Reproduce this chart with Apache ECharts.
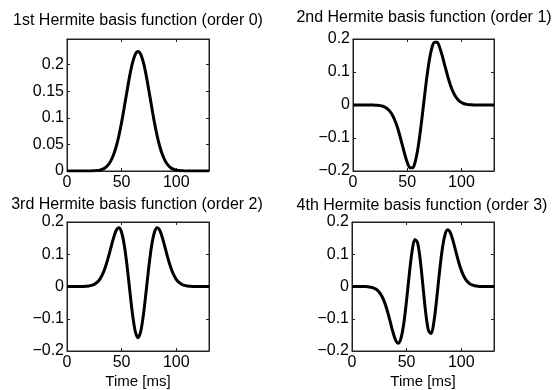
<!DOCTYPE html>
<html>
<head>
<meta charset="utf-8">
<script src="https://cdn.jsdelivr.net/npm/echarts@6/dist/echarts.min.js"></script>
<style>
  html, body { margin: 0; padding: 0; background: #fff; }
  #chart { width: 555px; height: 390px; }
</style>
</head>
<body>
<div id="chart"></div>
<script>
// time axis, ms (step 2.5)
const timeMs = [
  0, 2.5, 5, 7.5, 10, 12.5, 15, 17.5, 20, 22.5, 25, 27.5, 30, 32.5, 35, 37.5, 40, 42.5,
  45, 47.5, 50, 52.5, 55, 57.5, 60, 62.5, 65, 67.5, 70, 72.5, 75, 77.5, 80, 82.5, 85, 87.5,
  90, 92.5, 95, 97.5, 100, 102.5, 105, 107.5, 110, 112.5, 115, 117.5, 120, 122.5, 125, 127.5, 130
];

// order 0
const order0 = [
  0, 0, 0, 0, 0, 0, 0, 0, 0, 0.0002, 0.0004, 0.0008, 0.0017, 0.0033, 0.0062, 0.0110, 0.0186, 0.0299,
  0.0456, 0.0663, 0.0916, 0.1205, 0.1508, 0.1796, 0.2034, 0.2192, 0.2247, 0.2192, 0.2034, 0.1796, 0.1508, 0.1205, 0.0916, 0.0663, 0.0456, 0.0299,
  0.0186, 0.0110, 0.0062, 0.0033, 0.0017, 0.0008, 0.0004, 0.0002, 0, 0, 0, 0, 0, 0, 0, 0, 0
];

// order 1
const order1 = [
  0, 0, 0, 0, 0, 0, 0, 0, -0.0004, -0.0009, -0.0019, -0.0039, -0.0075, -0.0137, -0.0236, -0.0383, -0.0587, -0.0849,
  -0.1152, -0.1465, -0.1736, -0.1903, -0.1905, -0.1701, -0.1284, -0.0692, 0, 0.0692, 0.1284, 0.1701, 0.1905, 0.1903, 0.1736, 0.1465, 0.1152, 0.0849,
  0.0587, 0.0383, 0.0236, 0.0137, 0.0075, 0.0039, 0.0019, 0.0009, 0.0004, 0, 0, 0, 0, 0, 0, 0, 0
];

// order 2
const order2 = [
  0, 0, 0, 0, 0, 0, 0, 0.0007, 0.0016, 0.0033, 0.0066, 0.0125, 0.0223, 0.0374, 0.0588, 0.0863, 0.1179, 0.1493,
  0.1735, 0.1820, 0.1676, 0.1271, 0.0634, -0.0131, -0.0865, -0.1395, -0.1589, -0.1395, -0.0865, -0.0131, 0.0634, 0.1271, 0.1676, 0.1820, 0.1735, 0.1493,
  0.1179, 0.0863, 0.0588, 0.0374, 0.0223, 0.0125, 0.0066, 0.0033, 0.0016, 0.0007, 0, 0, 0, 0, 0, 0, 0
];

// order 3
const order3 = [
  0, 0, 0, 0, 0, 0, -0.0010, -0.0022, -0.0048, -0.0095, -0.0177, -0.0310, -0.0508, -0.0774, -0.1092, -0.1417, -0.1670, -0.1757,
  -0.1588, -0.1126, -0.0416, 0.0395, 0.1093, 0.1460, 0.1364, 0.0819, 0, -0.0819, -0.1364, -0.1460, -0.1093, -0.0395, 0.0416, 0.1126, 0.1588, 0.1757,
  0.1670, 0.1417, 0.1092, 0.0774, 0.0508, 0.0310, 0.0177, 0.0095, 0.0048, 0.0022, 0.0010, 0, 0, 0, 0, 0, 0
];

const titles = [
  '1st Hermite basis function (order 0)',
  '2nd Hermite basis function (order 1)',
  '3rd Hermite basis function (order 2)',
  '4th Hermite basis function (order 3)'
];
const xLabel = 'Time [ms]';

const FONT = '"Liberation Sans", Arial, Helvetica, sans-serif';

const grids = [
  { left: 67, top: 39, width: 142, height: 132 },
  { left: 353, top: 39, width: 141, height: 132 },
  { left: 67, top: 222, width: 142, height: 131 },
  { left: 352, top: 222, width: 142, height: 131 }
];
const yRanges = [
  { min: 0, max: 0.248, interval: 0.05 },
  { min: -0.2, max: 0.2, interval: 0.1 },
  { min: -0.2, max: 0.2, interval: 0.1 },
  { min: -0.2, max: 0.2, interval: 0.1 }
];
const titlePos = [[138, 21], [424, 17.5], [137, 204.5], [422, 205.5]];

const fmt = (v) => String(+v.toFixed(3)).replace('-', '\u2212');

const lineStyle = { color: '#222', width: 1 };
const tick = { show: true, inside: true, length: 3, lineStyle: { color: '#222', width: 1 } };
const label = { color: '#000', fontSize: 16, fontFamily: FONT };

const xAxis = [];
const yAxis = [];
const series = [];
const allData = [order0, order1, order2, order3];

grids.forEach((g, i) => {
  const bottomRow = i >= 2;
  const r = yRanges[i];
  xAxis.push({
    type: 'value', gridIndex: i, position: 'bottom',
    min: 0, max: 130, interval: 50,
    axisLine: { show: true, onZero: false, lineStyle },
    axisTick: tick,
    axisLabel: { ...label, margin: 4, showMaxLabel: false, formatter: fmt },
    splitLine: { show: false },
    name: bottomRow ? xLabel : '',
    nameLocation: 'middle',
    nameGap: 23,
    nameTextStyle: { color: '#000', fontSize: 15, fontFamily: FONT }
  });
  xAxis.push({
    type: 'value', gridIndex: i, position: 'top',
    min: 0, max: 130, interval: 50,
    axisLine: { show: true, onZero: false, lineStyle },
    axisTick: tick,
    axisLabel: { show: false },
    splitLine: { show: false }
  });
  yAxis.push({
    type: 'value', gridIndex: i, position: 'left',
    min: r.min, max: r.max, interval: r.interval,
    axisLine: { show: true, onZero: false, lineStyle },
    axisTick: tick,
    axisLabel: { ...label, margin: 3, showMaxLabel: i !== 0, formatter: fmt },
    splitLine: { show: false }
  });
  yAxis.push({
    type: 'value', gridIndex: i, position: 'right',
    min: r.min, max: r.max, interval: r.interval,
    axisLine: { show: true, onZero: false, lineStyle },
    axisTick: tick,
    axisLabel: { show: false },
    splitLine: { show: false }
  });
  const pts = timeMs.map((t, k) => [t, allData[i][k]]);
  series.push({
    type: 'line',
    xAxisIndex: i * 2,
    yAxisIndex: i * 2,
    data: pts,
    smooth: 0.3,
    symbol: 'none',
    lineStyle: { color: '#000', width: 3 },
    silent: true,
    z: 3
  });
  // bind the mirrored top/right axes so they get drawn
  series.push({
    type: 'line',
    xAxisIndex: i * 2 + 1,
    yAxisIndex: i * 2 + 1,
    data: pts,
    symbol: 'none',
    lineStyle: { opacity: 0 },
    silent: true
  });
});

const chart = echarts.init(document.getElementById('chart'), null, { renderer: 'canvas' });
chart.setOption({
  animation: false,
  backgroundColor: '#fff',
  grid: grids.map((g) => ({ ...g, show: true, borderColor: '#222', borderWidth: 1, backgroundColor: 'transparent' })),
  xAxis,
  yAxis,
  series,
  graphic: titles.map((t, i) => ({
    type: 'text',
    x: titlePos[i][0],
    y: titlePos[i][1],
    style: {
      text: t,
      fill: '#000',
      font: '16px ' + FONT,
      textAlign: 'center',
      textVerticalAlign: 'middle'
    }
  }))
});
</script>
</body>
</html>
